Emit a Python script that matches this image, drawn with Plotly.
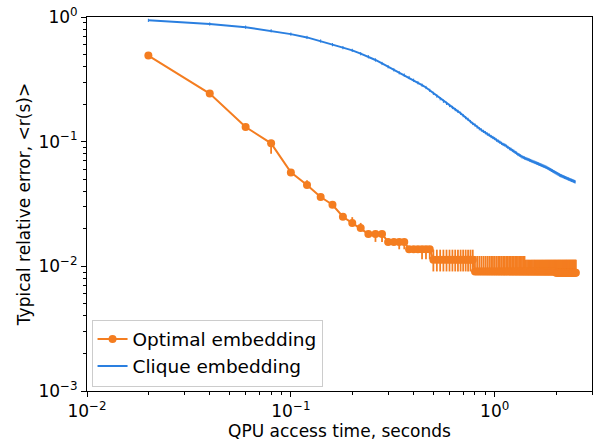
import plotly.graph_objects as go

time_s = [
    0.02, 0.04, 0.06, 0.08, 0.10, 0.12, 0.14, 0.16, 0.18, 0.20,
    0.22, 0.24, 0.26, 0.28, 0.30, 0.32, 0.34, 0.36, 0.38, 0.40,
    0.42, 0.44, 0.46, 0.48, 0.50, 0.52, 0.54, 0.56, 0.58, 0.60,
    0.62, 0.64, 0.66, 0.68, 0.70, 0.72, 0.74, 0.76, 0.78, 0.80,
    0.82, 0.84, 0.86, 0.88, 0.90, 0.92, 0.94, 0.96, 0.98, 1.00,
    1.02, 1.04, 1.06, 1.08, 1.10, 1.12, 1.14, 1.16, 1.18, 1.20,
    1.22, 1.24, 1.26, 1.28, 1.30, 1.32, 1.34, 1.36, 1.38, 1.40,
    1.42, 1.44, 1.46, 1.48, 1.50, 1.52, 1.54, 1.56, 1.58, 1.60,
    1.62, 1.64, 1.66, 1.68, 1.70, 1.72, 1.74, 1.76, 1.78, 1.80,
    1.82, 1.84, 1.86, 1.88, 1.90, 1.92, 1.94, 1.96, 1.98, 2.00,
    2.02, 2.04, 2.06, 2.08, 2.10, 2.12, 2.14, 2.16, 2.18, 2.20,
    2.22, 2.24, 2.26, 2.28, 2.30, 2.32, 2.34, 2.36, 2.38, 2.40,
    2.42, 2.44, 2.46, 2.48, 2.50,
]

optimal_err = [
    0.49, 0.243, 0.131, 0.097, 0.0567, 0.045, 0.036, 0.0312, 0.025, 0.0223,
    0.0203, 0.0182, 0.0182, 0.0182, 0.0157, 0.0157, 0.0157, 0.0157, 0.0137, 0.0137,
    0.0137, 0.0137, 0.0137, 0.0137, 0.0113, 0.0113, 0.0113, 0.0113, 0.0113, 0.0113,
    0.0113, 0.0113, 0.0113, 0.0113, 0.0113, 0.0113, 0.0113, 0.0113, 0.0113, 0.0091,
    0.0091, 0.0091, 0.0091, 0.0091, 0.0091, 0.0091, 0.0091, 0.0091, 0.0091, 0.0091,
    0.0091, 0.0091, 0.0091, 0.0091, 0.0091, 0.0091, 0.0091, 0.0091, 0.0091, 0.0091,
    0.0091, 0.0091, 0.0091, 0.0091, 0.0091, 0.0091, 0.0091, 0.0091, 0.0091, 0.0091,
    0.0091, 0.0091, 0.0091, 0.0091, 0.0091, 0.0091, 0.0091, 0.0091, 0.0091, 0.0091,
    0.0091, 0.0091, 0.0091, 0.0091, 0.0091, 0.0091, 0.0091, 0.0091, 0.0091, 0.0091,
    0.0091, 0.0091, 0.0091, 0.0091, 0.0091, 0.0091, 0.0091, 0.0091, 0.0091, 0.0089,
    0.0089, 0.0089, 0.0089, 0.0089, 0.0089, 0.0089, 0.0089, 0.0089, 0.0089, 0.0089,
    0.0089, 0.0089, 0.0089, 0.0089, 0.0089, 0.0089, 0.0089, 0.0089, 0.0089, 0.0089,
    0.0089, 0.0089, 0.0089, 0.0089, 0.0089,
]

optimal_plus = [
    0, 0, 0.008, 0, 0.002, 0.004, 0.002, 0.002, 0.001, 0.0025,
    0.002, 0, 0, 0, 0, 0, 0, 0, 0, 0,
    0, 0, 0, 0, 0.0023, 0.0023, 0.0023, 0.0023, 0.0023, 0.0023,
    0.0023, 0.0023, 0.0023, 0.0023, 0.0023, 0.0023, 0.0023, 0.0023, 0.0023, 0.003,
    0.003, 0.003, 0.003, 0.003, 0.003, 0.003, 0.003, 0.003, 0.003, 0.003,
    0.003, 0.003, 0.003, 0.003, 0.003, 0.003, 0.003, 0.003, 0.003, 0.003,
    0.003, 0.003, 0.003, 0.003, 0.003, 0.003, 0.003, 0.003, 0.003, 0.003,
    0.0022, 0.0022, 0.0022, 0.0022, 0.0022, 0.0022, 0.0022, 0.0022, 0.0022, 0.0022,
    0.0022, 0.0022, 0.0022, 0.0022, 0.0022, 0.0022, 0.0022, 0.0022, 0.0022, 0.0022,
    0.0022, 0.0022, 0.0022, 0.0022, 0.0022, 0.0022, 0.0022, 0.0022, 0.0022, 0.0024,
    0.0024, 0.0024, 0.0024, 0.0024, 0.0024, 0.0024, 0.0024, 0.0024, 0.0024, 0.0024,
    0.0024, 0.0024, 0.0024, 0.0024, 0.0024, 0.0024, 0.0024, 0.0024, 0.0024, 0.0024,
    0.0024, 0.0024, 0.0024, 0.0024, 0.0024,
]

optimal_minus = [
    0, 0, 0, 0.017, 0, 0, 0, 0, 0, 0,
    0, 0, 0.0025, 0.0025, 0, 0, 0.002, 0.002, 0, 0,
    0, 0.0023, 0.0023, 0.0023, 0.0022, 0.0022, 0.0022, 0.0022, 0.0022, 0.0022,
    0.0022, 0.0022, 0.0022, 0.0022, 0.0022, 0.0022, 0.0022, 0.0022, 0.0022, 0,
    0, 0, 0, 0, 0, 0, 0, 0, 0, 0,
    0, 0, 0, 0, 0, 0, 0, 0, 0, 0,
    0, 0, 0, 0, 0, 0, 0, 0, 0, 0,
    0, 0, 0, 0, 0, 0, 0, 0, 0, 0,
    0, 0, 0, 0, 0, 0, 0, 0, 0, 0,
    0, 0, 0, 0, 0, 0, 0, 0, 0, 0,
    0, 0, 0, 0, 0, 0, 0, 0, 0, 0,
    0, 0, 0, 0, 0, 0, 0, 0, 0, 0,
    0, 0, 0, 0, 0,
]

clique_err = [
    0.940, 0.879, 0.829, 0.776, 0.729, 0.686, 0.642, 0.600, 0.568, 0.540,
    0.508, 0.480, 0.452, 0.424, 0.399, 0.377, 0.357, 0.342, 0.327, 0.311,
    0.297, 0.284, 0.272, 0.258, 0.244, 0.232, 0.221, 0.211, 0.203, 0.195,
    0.188, 0.181, 0.175, 0.169, 0.162, 0.156, 0.151, 0.145, 0.140, 0.136,
    0.131, 0.127, 0.124, 0.121, 0.118, 0.115, 0.113, 0.110, 0.108, 0.106,
    0.103, 0.101, 0.099, 0.097, 0.095, 0.094, 0.092, 0.090, 0.088, 0.087,
    0.085, 0.084, 0.082, 0.081, 0.079, 0.078, 0.077, 0.0755, 0.0747, 0.0740,
    0.0733, 0.0726, 0.0719, 0.0712, 0.0706, 0.0699, 0.0693, 0.0687, 0.0681, 0.0675,
    0.0669, 0.0664, 0.0658, 0.0653, 0.0648, 0.0642, 0.0637, 0.0632, 0.0627, 0.0621,
    0.0614, 0.0608, 0.0601, 0.0595, 0.0589, 0.0583, 0.0577, 0.0571, 0.0566, 0.0560,
    0.0555, 0.0550, 0.0545, 0.0539, 0.0535, 0.0532, 0.0528, 0.0525, 0.0522, 0.0518,
    0.0515, 0.0512, 0.0508, 0.0505, 0.0502, 0.0499, 0.0496, 0.0493, 0.0490, 0.0488,
    0.0485, 0.0482, 0.0479, 0.0476,
]

x_major = [0.01, 0.1, 1]
x_major_text = ["10<sup>−2</sup>", "10<sup>−1</sup>", "10<sup>0</sup>"]
x_minor = [0.02, 0.03, 0.04, 0.05, 0.06, 0.07, 0.08, 0.09,
           0.2, 0.3, 0.4, 0.5, 0.6, 0.7, 0.8, 0.9, 2, 3]
y_major = [0.001, 0.01, 0.1, 1]
y_major_text = ["10<sup>−3</sup>", "10<sup>−2</sup>", "10<sup>−1</sup>", "10<sup>0</sup>"]
y_minor = [0.002, 0.003, 0.004, 0.005, 0.006, 0.007, 0.008, 0.009,
           0.02, 0.03, 0.04, 0.05, 0.06, 0.07, 0.08, 0.09,
           0.2, 0.3, 0.4, 0.5, 0.6, 0.7, 0.8, 0.9]

ORANGE = "#f47d20"
BLUE = "#2a7fe0"
FONT = "DejaVu Sans"
FS = 17
FS_LEGEND = 18.5

fig = go.Figure()
fig.add_trace(go.Scatter(
    x=time_s[:len(clique_err)], y=clique_err, mode="lines", name="Clique embedding",
    line=dict(color=BLUE, width=2),
    error_y=dict(type="percent", value=3, color=BLUE, thickness=1, width=0),
    legendrank=2,
))
fig.add_trace(go.Scatter(
    x=time_s, y=optimal_err, mode="lines+markers", name="Optimal embedding",
    line=dict(color=ORANGE, width=2),
    marker=dict(color=ORANGE, size=8),
    error_y=dict(type="data", array=optimal_plus, arrayminus=optimal_minus,
                 symmetric=False, color=ORANGE, thickness=1.8, width=0),
    legendrank=1,
))

axis_common = dict(
    showline=True, mirror=True, linecolor="black", linewidth=1,
    showgrid=False, zeroline=False,
    ticks="outside", ticklen=5, tickwidth=1, tickcolor="black",
    tickfont=dict(family=FONT, size=FS, color="black"),
)

fig.update_layout(
    width=598, height=443,
    margin=dict(l=87, r=5, t=14, b=52),
    paper_bgcolor="white", plot_bgcolor="white",
    font=dict(family=FONT, size=FS, color="black"),
    showlegend=True,
    legend=dict(x=0.009, y=0.012, xanchor="left", yanchor="bottom",
                bgcolor="white", bordercolor="#cccccc", borderwidth=1,
                font=dict(family=FONT, size=FS_LEGEND, color="black"),
                tracegroupgap=0),
    xaxis=dict(type="log", range=[-2, 0.4771],
               tickmode="array", tickvals=x_major, ticktext=x_major_text,
               minor=dict(tickmode="array", tickvals=x_minor, ticks="outside",
                          ticklen=3, tickwidth=0.8, tickcolor="black", showgrid=False),
               title=dict(text="QPU access time, seconds",
                          font=dict(family=FONT, size=FS, color="black"), standoff=1),
               **axis_common),
    yaxis=dict(type="log", range=[-3, 0],
               tickmode="array", tickvals=y_major, ticktext=y_major_text,
               minor=dict(tickmode="array", tickvals=y_minor, ticks="outside",
                          ticklen=3, tickwidth=0.8, tickcolor="black", showgrid=False),
               title=dict(text="Typical relative error, &lt;r(s)&gt;",
                          font=dict(family=FONT, size=FS, color="black"), standoff=3),
               **axis_common),
)

fig.write_html("out.html")
